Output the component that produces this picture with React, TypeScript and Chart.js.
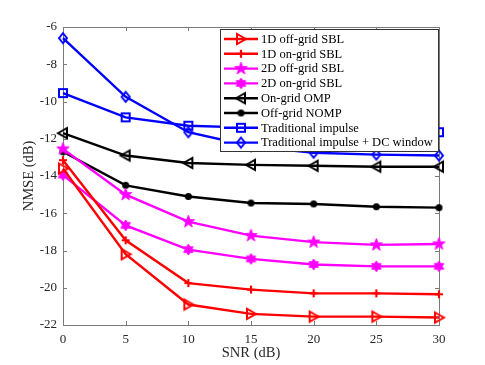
import React, { useEffect, useRef } from 'react';
import { Chart, registerables } from 'chart.js';

Chart.register(...registerables);

// ---------- data ----------
const snr = [0, 5, 10, 15, 20, 25, 30];
const offGrid1D = [-13.6, -18.2, -20.9, -21.4, -21.55, -21.55, -21.6];
const onGrid1D = [-13.15, -17.45, -19.75, -20.1, -20.3, -20.3, -20.35];
const offGrid2D = [-12.55, -15.0, -16.45, -17.2, -17.55, -17.7, -17.65];
const onGrid2D = [-13.95, -16.65, -17.95, -18.45, -18.75, -18.85, -18.85];
const onGridOMP = [-11.7, -12.9, -13.3, -13.4, -13.45, -13.5, -13.5];
const offGridNOMP = [-12.7, -14.5, -15.1, -15.45, -15.5, -15.65, -15.7];
const tradImpulse = [-9.55, -10.85, -11.3, -11.4, -11.5, -11.6, -11.65];
const tradImpulseDC = [-6.6, -9.75, -11.65, -12.4, -12.75, -12.85, -12.9];

const seriesLabels = [
  '1D off-grid SBL',
  '1D on-grid SBL',
  '2D off-grid SBL',
  '2D on-grid SBL',
  'On-grid OMP',
  'Off-grid NOMP',
  'Traditional impulse',
  'Traditional impulse + DC window',
];
const seriesData = [offGrid1D, onGrid1D, offGrid2D, onGrid2D, onGridOMP, offGridNOMP, tradImpulse, tradImpulseDC];
const seriesColors = ['#ff0000', '#ff0000', '#ff00ff', '#ff00ff', '#000000', '#000000', '#0000ff', '#0000ff'];
const seriesMarkers = ['triRight', 'plus', 'pentagram', 'hexagram', 'triLeft', 'dot', 'square', 'diamond'];

const xTicks = [0, 5, 10, 15, 20, 25, 30];
const yTicks = [-22, -20, -18, -16, -14, -12, -10, -8, -6];

const FONT = '"Times New Roman", "Liberation Serif", serif';
const AXIS_COLOR = '#7a7a7a';
const TEXT_COLOR = '#262626';

function makeMarker(kind: string, color: string): HTMLCanvasElement {
  const sizes: Record<string, number> = {
    triRight: 10, plus: 8, pentagram: 13, hexagram: 11, triLeft: 10, dot: 7, square: 8, diamond: 10,
  };
  const size = sizes[kind] || 9;
  const pad = 3;
  const s = size + pad * 2;
  const c = document.createElement('canvas');
  c.width = s;
  c.height = s;
  const ctx = c.getContext('2d')!;
  const cx = s / 2, cy = s / 2, r = size / 2;
  ctx.strokeStyle = color;
  ctx.fillStyle = color;
  ctx.lineWidth = 2;
  ctx.lineJoin = 'miter';
  ctx.beginPath();
  if (kind === 'triRight') {
    ctx.moveTo(cx + r, cy);
    ctx.lineTo(cx - r * 0.8, cy - r);
    ctx.lineTo(cx - r * 0.8, cy + r);
    ctx.closePath();
    ctx.stroke();
  } else if (kind === 'triLeft') {
    ctx.moveTo(cx - r, cy);
    ctx.lineTo(cx + r * 0.8, cy - r);
    ctx.lineTo(cx + r * 0.8, cy + r);
    ctx.closePath();
    ctx.stroke();
  } else if (kind === 'plus') {
    ctx.lineWidth = 2.2;
    ctx.moveTo(cx - r, cy);
    ctx.lineTo(cx + r, cy);
    ctx.moveTo(cx, cy - r);
    ctx.lineTo(cx, cy + r);
    ctx.stroke();
  } else if (kind === 'pentagram' || kind === 'hexagram') {
    const n = kind === 'pentagram' ? 5 : 6;
    const inner = kind === 'pentagram' ? r * 0.4 : r * 0.58;
    for (let i = 0; i < n * 2; i++) {
      const ang = -Math.PI / 2 + (i * Math.PI) / n;
      const rr = i % 2 === 0 ? r : inner;
      const px = cx + rr * Math.cos(ang);
      const py = cy + rr * Math.sin(ang);
      if (i === 0) ctx.moveTo(px, py);
      else ctx.lineTo(px, py);
    }
    ctx.closePath();
    ctx.fill();
    ctx.lineWidth = 1;
    ctx.stroke();
  } else if (kind === 'dot') {
    ctx.arc(cx, cy, r, 0, Math.PI * 2);
    ctx.fill();
  } else if (kind === 'square') {
    ctx.rect(cx - r, cy - r, size, size);
    ctx.stroke();
  } else if (kind === 'diamond') {
    ctx.moveTo(cx, cy - r);
    ctx.lineTo(cx + r * 0.8, cy);
    ctx.lineTo(cx, cy + r);
    ctx.lineTo(cx - r * 0.8, cy);
    ctx.closePath();
    ctx.stroke();
  }
  return c;
}

export default function App() {
  const canvasRef = useRef<HTMLCanvasElement | null>(null);

  useEffect(() => {
    const canvas = canvasRef.current;
    if (!canvas) return;
    const markers = seriesMarkers.map((m, i) => makeMarker(m, seriesColors[i]));

    const datasets = seriesLabels.map((label, i) => ({
      label,
      data: snr.map((x, j) => ({ x, y: seriesData[i][j] })),
      borderColor: seriesColors[i],
      backgroundColor: seriesColors[i],
      borderWidth: 2.4,
      pointStyle: markers[i] as any,
      pointRadius: 5,
      pointHoverRadius: 5,
      tension: 0,
      fill: false,
      clip: false as any,
    }));

    const boxPlugin = {
      id: 'matlabBox',
      beforeDatasetsDraw(chart: any) {
        const { ctx, chartArea, scales } = chart;
        const { left, right, top, bottom } = chartArea;
        ctx.save();
        ctx.strokeStyle = AXIS_COLOR;
        ctx.lineWidth = 1;
        ctx.strokeRect(Math.round(left) + 0.5, Math.round(top) + 0.5, Math.round(right - left), Math.round(bottom - top));
        const tl = 4;
        ctx.beginPath();
        for (const v of xTicks) {
          const px = Math.round(scales.x.getPixelForValue(v)) + 0.5;
          ctx.moveTo(px, bottom);
          ctx.lineTo(px, bottom - tl);
          ctx.moveTo(px, top);
          ctx.lineTo(px, top + tl);
        }
        for (const v of yTicks) {
          const py = Math.round(scales.y.getPixelForValue(v)) + 0.5;
          ctx.moveTo(left, py);
          ctx.lineTo(left + tl, py);
          ctx.moveTo(right, py);
          ctx.lineTo(right - tl, py);
        }
        ctx.stroke();
        ctx.restore();
      },
    };

    const legendPlugin = {
      id: 'matlabLegend',
      afterDraw(chart: any) {
        const { ctx, chartArea } = chart;
        const w = 218, h = 122;
        const x0 = Math.round(chartArea.right) - 219;
        const y0 = Math.round(chartArea.top) + 2;
        ctx.save();
        ctx.fillStyle = '#ffffff';
        ctx.fillRect(x0, y0, w, h);
        ctx.strokeStyle = '#333333';
        ctx.lineWidth = 1;
        ctx.strokeRect(x0 + 0.5, y0 + 0.5, w, h);
        const rowH = 14.8;
        ctx.font = '12.5px ' + FONT;
        ctx.textBaseline = 'middle';
        ctx.textAlign = 'left';
        seriesLabels.forEach((label, i) => {
          const cy = y0 + 10 + i * rowH;
          ctx.strokeStyle = seriesColors[i];
          ctx.lineWidth = 2.4;
          ctx.beginPath();
          ctx.moveTo(x0 + 4, cy);
          ctx.lineTo(x0 + 38, cy);
          ctx.stroke();
          const m = markers[i];
          ctx.drawImage(m, x0 + 21 - m.width / 2, cy - m.height / 2);
          ctx.fillStyle = '#000000';
          ctx.fillText(label, x0 + 41, cy + 0.5);
        });
        ctx.restore();
      },
    };

    const chart = new Chart(canvas, {
      type: 'line',
      data: { datasets: datasets as any },
      options: {
        animation: false,
        responsive: false,
        maintainAspectRatio: false,
        layout: { padding: { left: 0, right: 46, top: 27, bottom: 0 } },
        plugins: {
          legend: { display: false },
          tooltip: { enabled: false },
        },
        scales: {
          x: {
            type: 'linear',
            min: 0,
            max: 30,
            afterFit: (s: any) => { s.height = 40; },
            afterBuildTicks: (s: any) => { s.ticks = xTicks.map((v) => ({ value: v })); },
            grid: { display: false, drawTicks: false },
            border: { display: false },
            ticks: {
              padding: 7,
              color: TEXT_COLOR,
              font: { family: FONT, size: 13 },
              maxRotation: 0,
              callback: (v: any) => String(v),
            },
            title: {
              display: true,
              text: 'SNR (dB)',
              color: TEXT_COLOR,
              font: { family: FONT, size: 14.5 },
              padding: { top: 0, bottom: 3 },
            },
          },
          y: {
            type: 'linear',
            min: -22,
            max: -6,
            afterFit: (s: any) => { s.width = 63; },
            afterBuildTicks: (s: any) => { s.ticks = yTicks.map((v) => ({ value: v })); },
            grid: { display: false, drawTicks: false },
            border: { display: false },
            ticks: {
              padding: 6,
              color: TEXT_COLOR,
              font: { family: FONT, size: 13 },
              callback: (v: any) => String(v),
            },
            title: {
              display: true,
              text: 'NMSE (dB)',
              color: TEXT_COLOR,
              font: { family: FONT, size: 14.5 },
              padding: { top: 20, bottom: 0 },
            },
          },
        },
      },
      plugins: [boxPlugin, legendPlugin],
    });

    return () => chart.destroy();
  }, []);

  return (
    <div style={{ position: 'fixed', left: 0, top: 0, width: 485, height: 365, background: '#ffffff' }}>
      <canvas ref={canvasRef} width={485} height={365} style={{ width: 485, height: 365, display: 'block' }} />
    </div>
  );
}
